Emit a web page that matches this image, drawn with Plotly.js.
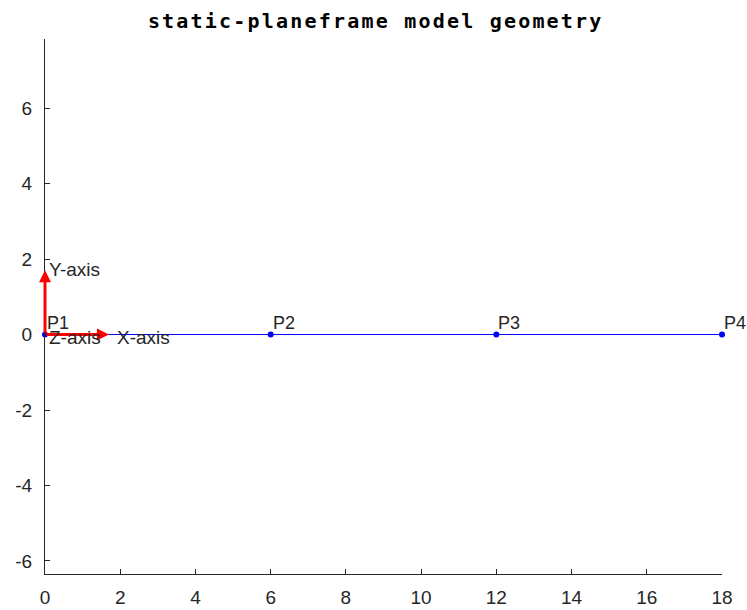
<!DOCTYPE html>
<html>
<head>
<meta charset="utf-8">
<script src="https://cdn.plot.ly/plotly-3.0.1.min.js"></script>
<style>html,body{margin:0;padding:0;background:#fff;}#chart{width:747px;height:610px;}</style>
</head>
<body>
<div id="chart"></div>
<script>
// ---- data ----
const nodeX = [0, 6, 12, 18];
const nodeY = [0, 0, 0, 0];
const nodeLabels = ['P1', 'P2', 'P3', 'P4'];
const axisArrowLength = 1.7;
const axisLabelNames = ['X-axis', 'Y-axis', 'Z-axis'];
const axisLabelX = [1.8, 0, 0];
const axisLabelY = [0, 1.8, 0];
const xTicks = [0, 2, 4, 6, 8, 10, 12, 14, 16, 18];
const yTicks = [-6, -4, -2, 0, 2, 4, 6];
const xRange = [0, 18];
const yRange = [-6.345, 7.83];
const titleText = 'static-planeframe model geometry';

const ink = '#262626';
const sans = 'Liberation Sans, Arial, sans-serif';

const traces = [{
  x: nodeX, y: nodeY, type: 'scatter', mode: 'lines+markers',
  line: {color: '#0000ff', width: 1},
  marker: {color: '#0000ff', size: 6},
  cliponaxis: false, hoverinfo: 'skip', showlegend: false
}];

const annotations = [];
// axis arrows
annotations.push({
  x: axisArrowLength, y: 0, ax: 0, ay: 0, xref: 'x', yref: 'y', axref: 'x', ayref: 'y',
  text: '', showarrow: true, arrowhead: 2, arrowsize: 0.8, arrowwidth: 3, arrowcolor: '#ff0000', standoff: 0, startstandoff: 0
});
annotations.push({
  x: 0, y: axisArrowLength, ax: 0, ay: 0, xref: 'x', yref: 'y', axref: 'x', ayref: 'y',
  text: '', showarrow: true, arrowhead: 2, arrowsize: 0.8, arrowwidth: 3, arrowcolor: '#ff0000', standoff: 0, startstandoff: 0
});
// node labels
nodeLabels.forEach((t, i) => annotations.push({
  x: nodeX[i], y: nodeY[i], xref: 'x', yref: 'y', text: t, showarrow: false,
  xanchor: 'left', yanchor: 'bottom', xshift: 0, yshift: 0,
  font: {family: sans, size: 18, color: ink}
}));
// axis labels
axisLabelNames.forEach((t, i) => annotations.push({
  x: axisLabelX[i], y: axisLabelY[i], xref: 'x', yref: 'y', text: t, showarrow: false,
  xanchor: 'left', yanchor: 'middle', xshift: 2, yshift: -3,
  font: {family: sans, size: 19, color: ink}
}));

const axisCommon = {
  showgrid: false, zeroline: false, showline: true, linecolor: ink, linewidth: 1,
  ticks: 'inside', ticklen: 5, tickwidth: 1, tickcolor: ink,
  tickfont: {family: sans, size: 19, color: ink},
  fixedrange: true
};

const layout = {
  width: 747, height: 610,
  margin: {l: 45, r: 25, t: 39, b: 36, pad: 0},
  paper_bgcolor: '#ffffff', plot_bgcolor: '#ffffff',
  title: {
    text: '<span style="letter-spacing:2.2px">' + titleText + '</span>',
    xref: 'container', x: 0.503, xanchor: 'center',
    yref: 'container', y: 1 - 21 / 610, yanchor: 'middle',
    font: {family: 'DejaVu Sans Mono, monospace', size: 20, color: '#000000', weight: 'bold'}
  },
  xaxis: Object.assign({}, axisCommon, {range: xRange, tickvals: xTicks, ticktext: xTicks.map(String), ticklabelstandoff: 6}),
  yaxis: Object.assign({}, axisCommon, {range: yRange, tickvals: yTicks, ticktext: yTicks.map(String), ticklabelstandoff: 8}),
  annotations: annotations,
  showlegend: false
};

Plotly.newPlot('chart', traces, layout, {displayModeBar: false, staticPlot: true});
</script>
</body>
</html>
